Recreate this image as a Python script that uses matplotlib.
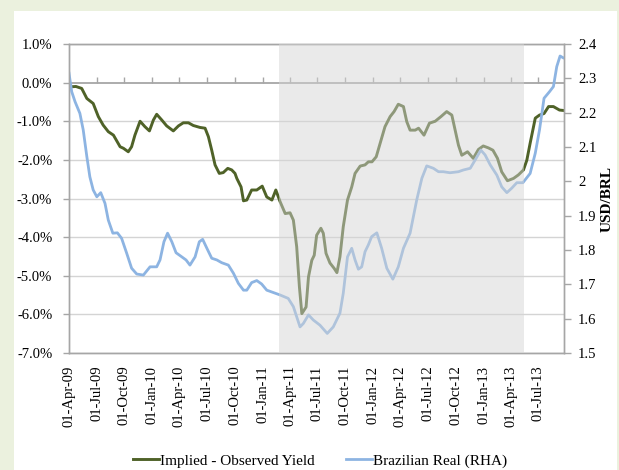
import matplotlib
matplotlib.use("Agg")
import matplotlib.pyplot as plt
import matplotlib.dates as mdates
from matplotlib.patches import Rectangle
from matplotlib.lines import Line2D
import matplotlib.ticker as mticker
import pandas as pd

plt.rcParams["font.family"] = ["Liberation Serif", "DejaVu Serif"]

# Implied minus observed yield (%, left axis)
green_dates = [
    "2009-04-01", "2009-04-24", "2009-05-13", "2009-05-30", "2009-06-20", "2009-07-07",
    "2009-07-23", "2009-08-09", "2009-08-26", "2009-09-17", "2009-09-28", "2009-10-14",
    "2009-10-25", "2009-11-05", "2009-11-22", "2009-12-08", "2009-12-23", "2010-01-05",
    "2010-01-16", "2010-02-02", "2010-02-18", "2010-03-12", "2010-03-29", "2010-04-14",
    "2010-05-01", "2010-05-17", "2010-06-08", "2010-06-25", "2010-07-06", "2010-07-17",
    "2010-07-28", "2010-08-11", "2010-08-24", "2010-09-08", "2010-09-21", "2010-10-02",
    "2010-10-08", "2010-10-22", "2010-10-30", "2010-11-10", "2010-11-26", "2010-12-13",
    "2010-12-31", "2011-01-15", "2011-02-01", "2011-02-14", "2011-02-28", "2011-03-17",
    "2011-04-02", "2011-04-13", "2011-04-24", "2011-05-03", "2011-05-11", "2011-05-25",
    "2011-06-02", "2011-06-13", "2011-06-21", "2011-06-29", "2011-07-13", "2011-07-21",
    "2011-07-30", "2011-08-12", "2011-08-26", "2011-09-04", "2011-09-14", "2011-09-25",
    "2011-10-09", "2011-10-23", "2011-11-03", "2011-11-20", "2011-12-06", "2011-12-17",
    "2011-12-29", "2012-01-12", "2012-01-25", "2012-02-10", "2012-02-27", "2012-03-11",
    "2012-03-25", "2012-04-11", "2012-04-22", "2012-05-03", "2012-05-20", "2012-05-31",
    "2012-06-18", "2012-07-06", "2012-07-25", "2012-08-13", "2012-09-01", "2012-09-18",
    "2012-09-29", "2012-10-10", "2012-10-21", "2012-11-09", "2012-11-28", "2012-12-15",
    "2012-12-31", "2013-01-17", "2013-02-01", "2013-02-16", "2013-03-02", "2013-03-21",
    "2013-04-10", "2013-04-26", "2013-05-13", "2013-05-24", "2013-06-04", "2013-06-21",
    "2013-07-05", "2013-07-20", "2013-08-04", "2013-08-20", "2013-09-09", "2013-09-21",
]
green_values = [
    -0.11, -0.10, -0.15, -0.41, -0.54, -0.88,
    -1.10, -1.27, -1.36, -1.66, -1.70, -1.79,
    -1.66, -1.36, -1.00, -1.14, -1.25, -0.97,
    -0.82, -0.97, -1.12, -1.25, -1.12, -1.04,
    -1.04, -1.11, -1.16, -1.18, -1.40, -1.75,
    -2.13, -2.35, -2.33, -2.22, -2.26, -2.35,
    -2.48, -2.70, -3.06, -3.04, -2.78, -2.78,
    -2.68, -2.96, -3.04, -2.78, -3.08, -3.39,
    -3.37, -3.56, -4.25, -5.29, -5.98, -5.81,
    -5.03, -4.60, -4.47, -3.95, -3.77, -3.90,
    -4.42, -4.67, -4.81, -4.92, -4.51, -3.73,
    -3.04, -2.70, -2.35, -2.16, -2.13, -2.05,
    -2.05, -1.92, -1.57, -1.14, -0.88, -0.75,
    -0.56, -0.62, -1.01, -1.23, -1.23, -1.18,
    -1.36, -1.05, -1.00, -0.88, -0.75, -0.84,
    -1.23, -1.62, -1.88, -1.79, -1.96, -1.73,
    -1.64, -1.69, -1.75, -1.96, -2.31, -2.54,
    -2.48, -2.39, -2.26, -2.01, -1.57, -0.92,
    -0.84, -0.80, -0.62, -0.62, -0.71, -0.72,
]

# USD/BRL exchange rate (right axis)
blue_dates = [
    "2009-04-01", "2009-04-10", "2009-04-21", "2009-05-07", "2009-05-18", "2009-05-30",
    "2009-06-09", "2009-06-20", "2009-07-02", "2009-07-15", "2009-07-29", "2009-08-09",
    "2009-08-24", "2009-09-08", "2009-09-22", "2009-10-09", "2009-10-25", "2009-11-11",
    "2009-12-03", "2009-12-25", "2010-01-16", "2010-01-27", "2010-02-09", "2010-02-21",
    "2010-03-07", "2010-03-21", "2010-04-09", "2010-04-23", "2010-05-06", "2010-05-23",
    "2010-06-06", "2010-06-17", "2010-07-01", "2010-07-17", "2010-08-03", "2010-08-19",
    "2010-09-10", "2010-09-27", "2010-10-13", "2010-10-30", "2010-11-10", "2010-11-26",
    "2010-12-13", "2010-12-29", "2011-01-15", "2011-02-06", "2011-02-28", "2011-03-27",
    "2011-04-13", "2011-05-05", "2011-05-16", "2011-06-02", "2011-06-18", "2011-07-10",
    "2011-08-03", "2011-08-23", "2011-09-14", "2011-09-25", "2011-10-09", "2011-10-23",
    "2011-11-03", "2011-11-14", "2011-11-25", "2011-12-06", "2011-12-17", "2011-12-28",
    "2012-01-14", "2012-01-30", "2012-02-16", "2012-03-07", "2012-03-25", "2012-04-11",
    "2012-05-03", "2012-05-25", "2012-06-11", "2012-06-27", "2012-07-19", "2012-08-05",
    "2012-08-21", "2012-09-12", "2012-10-10", "2012-10-26", "2012-11-18", "2012-12-04",
    "2012-12-23", "2013-01-06", "2013-01-23", "2013-02-14", "2013-03-02", "2013-03-19",
    "2013-04-04", "2013-04-21", "2013-05-11", "2013-06-04", "2013-06-21", "2013-07-05",
    "2013-07-20", "2013-08-07", "2013-08-20", "2013-08-31", "2013-09-11", "2013-09-21",
]
blue_values = [
    2.315, 2.261, 2.232, 2.198, 2.150, 2.072,
    2.013, 1.975, 1.955, 1.967, 1.936, 1.887,
    1.849, 1.850, 1.834, 1.790, 1.747, 1.730,
    1.727, 1.751, 1.751, 1.771, 1.824, 1.849,
    1.824, 1.792, 1.780, 1.771, 1.756, 1.780,
    1.824, 1.831, 1.805, 1.776, 1.771, 1.763,
    1.756, 1.732, 1.703, 1.683, 1.683, 1.705,
    1.711, 1.701, 1.683, 1.676, 1.669, 1.659,
    1.635, 1.576, 1.586, 1.611, 1.596, 1.581,
    1.557, 1.576, 1.616, 1.674, 1.780, 1.805,
    1.771, 1.744, 1.751, 1.795, 1.815, 1.839,
    1.850, 1.805, 1.747, 1.715, 1.751, 1.805,
    1.849, 1.946, 2.009, 2.045, 2.038, 2.028,
    2.028, 2.025, 2.028, 2.033, 2.038, 2.062,
    2.091, 2.077, 2.048, 2.018, 1.984, 1.967,
    1.980, 1.996, 1.996, 2.023, 2.082, 2.150,
    2.242, 2.261, 2.276, 2.334, 2.365, 2.360,
]

shade_period = ["2011-02-25", "2013-05-15"]
x_range = ["2009-04-01", "2013-09-24"]
left_ticks = [1.0, 0.0, -1.0, -2.0, -3.0, -4.0, -5.0, -6.0, -7.0]
right_ticks = [1.5, 1.6, 1.7, 1.8, 1.9, 2.0, 2.1, 2.2, 2.3, 2.4]

green_color = "#4f6228"
blue_color = "#8db4e2"
axis_gray = "#a6a6a6"
grid_gray = "#d4d4d4"

W, H = 619, 470
fig = plt.figure(figsize=(W / 100, H / 100), dpi=100, facecolor="#ebf1de")
fig.patches.append(Rectangle((14 / W, 0), (617 - 14) / W, (H - 11) / H,
                             transform=fig.transFigure, facecolor="white",
                             edgecolor="none", zorder=-5))

left, right, top, bottom = 69, 564, 44, 353
ax = fig.add_axes([left / W, 1 - bottom / H, (right - left) / W, (bottom - top) / H])
ax2 = ax.twinx()

gd = pd.to_datetime(green_dates)
bd = pd.to_datetime(blue_dates)
x0, x1 = pd.to_datetime(x_range)

ax.set_xlim(x0, x1)
ax.set_ylim(-7.0, 1.0)
ax2.set_ylim(1.5, 2.4)

# grid and axis line at zero
for v in left_ticks:
    if v == 0.0:
        continue
    ax.axhline(v, color=grid_gray, lw=1.0, zorder=0.5)
ax.axhline(0.0, color=axis_gray, lw=1.3, zorder=0.6)

ax.plot(gd, green_values, color=green_color, lw=2.1, solid_joinstyle="round", zorder=2)
ax2.plot(bd, blue_values, color=blue_color, lw=2.0, solid_joinstyle="round", zorder=2)

# shaded period sits on top of both series
s0, s1 = pd.to_datetime(shade_period)
ax2.axvspan(s0, s1, color="#d5d5d5", alpha=0.48, lw=0, zorder=5)

# x axis: quarterly dates, labels at the bottom, tick marks on the zero line
loc = mdates.MonthLocator(bymonth=[1, 4, 7, 10], bymonthday=1)
ax.xaxis.set_major_locator(loc)
ax.xaxis.set_major_formatter(mdates.DateFormatter("%d-%b-%y"))
ax.tick_params(axis="x", length=0, pad=9, labelsize=10.5, rotation=90)
tick_dates = [t for t in loc.tick_values(x0, x1) if x0 <= mdates.num2date(t).replace(tzinfo=None) <= x1]
ax.vlines(tick_dates, 0.0, 0.14, color=axis_gray, lw=1.0, zorder=0.6)

ax.set_yticks(left_ticks)
ax.yaxis.set_major_formatter(mticker.FuncFormatter(lambda v, p: f"{v:.1f}%"))
ax.tick_params(axis="y", length=4, width=1, color=axis_gray, pad=8, labelsize=10.5)

ax2.set_yticks(right_ticks)
ax2.yaxis.set_major_formatter(mticker.FuncFormatter(lambda v, p: f"{v:g}"))
ax2.tick_params(axis="y", length=5, width=1, color=axis_gray, pad=5, labelsize=10.5)
ax2.set_ylabel("USD/BRL", fontsize=11, fontweight="bold", labelpad=3)

for a in (ax, ax2):
    for side in ("left", "right", "top", "bottom"):
        a.spines[side].set_color(axis_gray)
        a.spines[side].set_linewidth(1.0)
ax.set_facecolor("white")

handles = [Line2D([], [], color=green_color, lw=2.1),
           Line2D([], [], color=blue_color, lw=2.0)]
fig.legend(handles, ["Implied - Observed Yield", "Brazilian Real (RHA)"],
           loc="center", bbox_to_anchor=(320 / W, 1 - 461 / H), ncol=2,
           frameon=False, fontsize=11, handlelength=1.7, handletextpad=0.1,
           columnspacing=2.0)

fig.savefig("out.png", dpi=100, facecolor=fig.get_facecolor())
